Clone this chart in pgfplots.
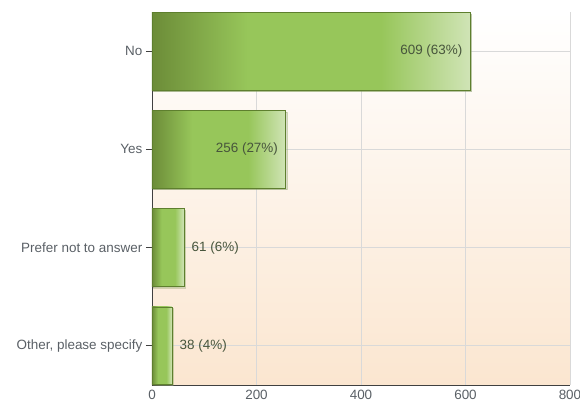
\documentclass[border=0pt]{standalone}
\usepackage{fontspec}
\setmainfont{Liberation Sans}
\usepackage{pgfplots}
\pgfplotsset{compat=1.18}
\usetikzlibrary{shadows}

\definecolor{bardark}{HTML}{6C8C38}
\definecolor{barmid}{HTML}{97C65A}
\definecolor{barlight}{HTML}{D0E4B6}
\definecolor{baredge}{HTML}{5E7F2E}
\definecolor{peach}{HTML}{FBE6D0}
\definecolor{labelgray}{HTML}{5A6066}
\definecolor{valgray}{HTML}{47553C}

% tikz maps the path's box onto 25bp..75bp of a 100bp shading
\pgfdeclarehorizontalshading{barshade}{100bp}{
  color(0bp)=(bardark); color(25bp)=(bardark); color(40bp)=(barmid);
  color(61bp)=(barmid); color(75bp)=(barlight); color(100bp)=(barlight)}

\pgfplotsset{
  greenbar/.style={draw=baredge, line width=0.7pt, shading=barshade,
    drop shadow={opacity=0.25, shadow xshift=1.5bp, shadow yshift=-1.5bp}},
  inside/.style={every node near coord/.append style={anchor=east, xshift=-3bp}},
  outside/.style={every node near coord/.append style={anchor=west, xshift=3bp}},
}

\begin{document}
\begin{tikzpicture}
\fontsize{13.5}{16}\selectfont
\begin{axis}[
    scale only axis,
    width=418bp, height=373bp,
    xbar, bar width=0.79, bar shift=0pt,
    xmin=0, xmax=800,
    ymin=-0.4, ymax=3.4,
    y dir=reverse,
    ytick={0,1,2,3},
    yticklabels={No, Yes, Prefer not to answer, {Other, please specify}},
    xtick={0,200,400,600,800},
    axis lines*=left,
    axis line style={-, draw=black!75, line width=0.8pt},
    grid=major,
    major grid style={draw=black!15, line width=0.6pt},
    tick label style={text=labelgray, font=\fontsize{13.5}{16}\selectfont},
    /pgf/number format/assume math mode=true,
    ytick style={draw=black!75, line width=0.8pt},
    major tick length=6bp,
    xtick style={draw=none},
    yticklabel style={xshift=1bp},
    axis background/.style={top color=white, bottom color=peach},
    point meta=explicit symbolic,
    nodes near coords,
    every node near coord/.append style={text=valgray, font=\fontsize{13.5}{16}\selectfont},
]
\addplot[greenbar, inside]  coordinates {(609,0) [609 (63\%)]};
\addplot[greenbar, inside]  coordinates {(256,1) [256 (27\%)]};
\addplot[greenbar, outside] coordinates {(61,2) [61 (6\%)]};
\addplot[greenbar, outside] coordinates {(38,3) [38 (4\%)]};
\coordinate (O) at (axis cs:0,3.4);
\end{axis}
\pgfresetboundingbox
\path (O) ++(-152bp,-19bp) rectangle ++(580bp,404bp);
\end{tikzpicture}
\end{document}
